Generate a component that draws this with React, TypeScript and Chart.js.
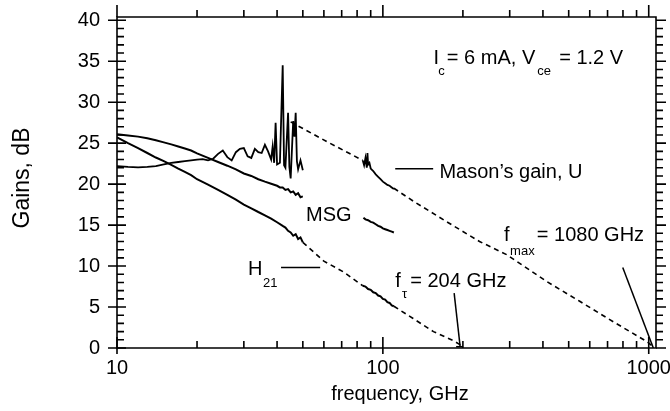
import React, { useEffect, useRef } from "react";
import { Chart, registerables } from "chart.js";
Chart.register(...registerables);

const FONT = "'Liberation Sans', Arial, Helvetica, sans-serif";

// ---- axis ticks ----
const xMajorTicks = [10, 100, 1000];
const xMinorTicks = [20, 30, 40, 50, 60, 70, 80, 90, 200, 300, 400, 500, 600, 700, 800, 900];
const yMajorTicks = [0, 5, 10, 15, 20, 25, 30, 35, 40];
const yMinorTicks = Array.from({ length: 40 }, (_, i) => i + 1).filter((v) => v % 5 !== 0);

// ---- MSG ----
const msgF1 = [10, 11, 12, 13, 14, 15, 16, 17, 18, 19, 20, 22, 24, 26, 28, 30, 32, 34, 36, 38, 40, 41, 42, 43, 44, 45, 46, 47, 48, 49, 50];
const msgG1 = [26.1, 25.95, 25.8, 25.6, 25.35, 25.1, 24.85, 24.6, 24.35, 24.1, 23.75, 23.2, 22.7, 22.25, 21.8, 21.3, 21.0, 20.6, 20.3, 20.05, 19.8, 19.6, 19.6, 19.3, 19.4, 19.0, 19.1, 18.7, 18.9, 18.4, 18.5];
const msgF2 = [84.5, 86, 88, 90, 92, 94, 96, 98, 100, 102, 104, 106, 108, 110];
const msgG2 = [15.9, 15.7, 15.6, 15.4, 15.3, 15.1, 14.9, 14.8, 14.6, 14.5, 14.4, 14.3, 14.2, 14.1];

// ---- H21 ----
const h21F1 = [10, 11, 12, 13, 14, 15, 16, 17, 18, 19, 20, 22, 24, 26, 28, 30, 32, 34, 36, 38, 40, 42, 43, 44, 45, 46, 47, 48, 49, 50];
const h21G1 = [25.7, 25.0, 24.4, 23.8, 23.25, 22.8, 22.35, 21.9, 21.5, 21.1, 20.6, 19.95, 19.3, 18.7, 18.1, 17.5, 17.05, 16.6, 16.2, 15.8, 15.35, 14.9, 14.7, 14.3, 14.1, 13.7, 13.9, 13.3, 13.5, 12.9];
const h21DashF1 = [50, 60, 71, 84];
const h21DashG1 = [12.9, 10.6, 9.3, 7.6];
const h21F2 = [84, 86, 88, 90, 92, 94, 96, 98, 100, 102, 104, 106, 108, 110];
const h21G2 = [7.6, 7.5, 7.2, 7.1, 6.8, 6.7, 6.4, 6.3, 6.0, 5.9, 5.6, 5.5, 5.2, 5.1];
const h21DashF2 = [110, 130, 155, 184, 200];
const h21DashG2 = [5.1, 3.6, 2.0, 0.9, 0.2];

// ---- Mason's gain U ----
const uF1 = [10, 11, 12, 13, 14, 15, 16, 17, 18, 19, 20, 21, 22, 23, 24, 25, 26, 27, 28, 29, 30, 31, 32, 33, 34, 35, 36, 37, 38, 38.5, 39, 39.5, 40, 41, 42, 42.5, 43, 44, 44.5, 45, 46, 46.5, 47, 47.5, 48, 49, 50];
const uG1 = [22.2, 22.1, 22.05, 22.1, 22.2, 22.4, 22.6, 22.7, 22.8, 22.9, 23.0, 23.05, 22.9, 23.1, 23.7, 24.1, 23.3, 22.9, 23.9, 24.3, 24.4, 23.4, 23.2, 24.3, 23.9, 23.8, 24.8, 24.0, 23.0, 24.6, 22.6, 27.5, 22.4, 22.6, 34.5, 22.3, 22.0, 28.7, 22.1, 20.7, 27.7, 25.8, 28.7, 22.8, 21.8, 22.9, 21.7];
const uDashF1 = [45, 61.5, 84];
const uDashG1 = [27.6, 25.2, 22.9];
const uF2 = [84, 85, 86, 87, 87.5, 88, 89, 90, 92, 94, 96, 98, 100, 102, 104, 106, 108, 110];
const uG2 = [22.9, 22.3, 23.2, 22.0, 23.8, 22.4, 22.6, 21.9, 21.6, 21.2, 20.9, 20.6, 20.3, 20.1, 19.9, 19.8, 19.6, 19.4];
const uDashF2 = [110, 130.5, 174, 231, 292, 414, 550, 736, 982, 1045];
const uDashG2 = [19.5, 17.9, 15.4, 13.0, 11.4, 8.1, 5.7, 3.2, 0.8, 0.1];

// ---- leader lines (data coords) ----
const masonLeaderF = [111.3, 154.6];
const masonLeaderG = [21.88, 21.88];
const h21LeaderF = [41.4, 58.1];
const h21LeaderG = [9.82, 9.82];
const ftLeaderF = [185.4, 195.3];
const ftLeaderG = [6.69, 0.16];
const ftCapF = [188.6, 200.4];
const ftCapG = [0.16, 0.16];
const fmaxLeaderF = [798.5, 1040.6];
const fmaxLeaderG = [9.82, 0.0];

type Piece = { t: string; dx: number; dy: number; size: number };
type Ann = { f: number; g: number; pieces: Piece[] };

const annotations: Ann[] = [
  {
    f: 155.0, g: 34.68,
    pieces: [
      { t: "I", dx: 0, dy: 0, size: 20 },
      { t: "c", dx: 4.7, dy: 10.7, size: 13 },
      { t: "= 6 mA, V", dx: 13.4, dy: 0, size: 20 },
      { t: "ce", dx: 103.7, dy: 10.7, size: 13 },
      { t: "= 1.2 V", dx: 125.7, dy: 0, size: 20 },
    ],
  },
  { f: 163.2, g: 20.71, pieces: [{ t: "Mason\u2019s gain, U", dx: 0, dy: 0, size: 20 }] },
  { f: 51.4, g: 15.44, pieces: [{ t: "MSG", dx: 0, dy: 0, size: 20 }] },
  {
    f: 31.1, g: 8.92,
    pieces: [
      { t: "H", dx: 0, dy: 0, size: 20 },
      { t: "21", dx: 15, dy: 11.7, size: 13 },
    ],
  },
  {
    f: 111.3, g: 7.49,
    pieces: [
      { t: "f", dx: 0, dy: 0, size: 20 },
      { t: "\u03c4", dx: 6.7, dy: 11.3, size: 13 },
      { t: "= 204 GHz", dx: 15, dy: 0, size: 20 },
    ],
  },
  {
    f: 285.8, g: 13.0,
    pieces: [
      { t: "f", dx: 0, dy: 0, size: 20 },
      { t: "max", dx: 6, dy: 13.3, size: 13 },
      { t: "= 1080 GHz", dx: 32.7, dy: 0, size: 20 },
    ],
  },
];

function pts(f: number[], g: number[]) {
  return f.map((x, i) => ({ x, y: g[i] }));
}
function solid(f: number[], g: number[], w = 2) {
  return { data: pts(f, g), borderColor: "#000", backgroundColor: "#000", borderWidth: w, pointRadius: 0, fill: false, tension: 0 };
}
function dashed(f: number[], g: number[]) {
  return { data: pts(f, g), borderColor: "#000", backgroundColor: "#000", borderWidth: 1.6, borderDash: [5, 4], pointRadius: 0, fill: false, tension: 0 };
}

const framePlugin = {
  id: "frame",
  afterDraw(chart: any) {
    const { ctx, chartArea: a, scales } = chart;
    const xs = scales.x;
    const ys = scales.y;
    ctx.save();
    ctx.strokeStyle = "#000";
    ctx.lineWidth = 1.6;
    ctx.beginPath();
    ctx.rect(a.left, a.top, a.right - a.left, a.bottom - a.top);
    ctx.stroke();
    ctx.beginPath();
    for (const v of xMinorTicks) {
      const px = xs.getPixelForValue(v);
      ctx.moveTo(px, a.bottom); ctx.lineTo(px, a.bottom - 7);
      ctx.moveTo(px, a.top); ctx.lineTo(px, a.top - 7);
    }
    for (const v of xMajorTicks) {
      const px = xs.getPixelForValue(v);
      ctx.moveTo(px, a.bottom + 6); ctx.lineTo(px, a.bottom - 11);
      ctx.moveTo(px, a.top); ctx.lineTo(px, a.top - 12);
    }
    for (const v of yMinorTicks) {
      const py = ys.getPixelForValue(v);
      ctx.moveTo(a.left, py); ctx.lineTo(a.left + 7, py);
      ctx.moveTo(a.right, py); ctx.lineTo(a.right + 7, py);
    }
    for (const v of yMajorTicks) {
      const py = ys.getPixelForValue(v);
      ctx.moveTo(a.left - 9, py); ctx.lineTo(a.left + 9, py);
      ctx.moveTo(a.right, py); ctx.lineTo(a.right + 10, py);
    }
    ctx.stroke();

    ctx.fillStyle = "#000";
    ctx.textAlign = "left";
    ctx.textBaseline = "alphabetic";
    for (const ann of annotations) {
      const x0 = xs.getPixelForValue(ann.f);
      const y0 = ys.getPixelForValue(ann.g);
      for (const p of ann.pieces) {
        ctx.font = `${p.size}px ${FONT}`;
        ctx.fillText(p.t, x0 + p.dx, y0 + p.dy);
      }
    }

    // axis titles
    ctx.font = `20px ${FONT}`;
    ctx.textAlign = "center";
    ctx.textBaseline = "alphabetic";
    ctx.fillText("frequency, GHz", 400, 400);
    ctx.save();
    ctx.translate(29, 178);
    ctx.rotate(-Math.PI / 2);
    ctx.font = `23px ${FONT}`;
    ctx.fillText("Gains, dB", 0, 0);
    ctx.restore();
    ctx.restore();
  },
};

export default function App() {
  const ref = useRef<HTMLCanvasElement | null>(null);
  useEffect(() => {
    if (!ref.current) return;
    const datasets: any[] = [
      solid(msgF1, msgG1),
      solid(msgF2, msgG2),
      solid(h21F1, h21G1),
      dashed(h21DashF1, h21DashG1),
      solid(h21F2, h21G2),
      dashed(h21DashF2, h21DashG2),
      solid(uF1, uG1, 1.8),
      dashed(uDashF1, uDashG1),
      solid(uF2, uG2, 1.8),
      dashed(uDashF2, uDashG2),
      solid(masonLeaderF, masonLeaderG, 1.5),
      solid(h21LeaderF, h21LeaderG, 1.5),
      solid(ftLeaderF, ftLeaderG, 1.5),
      solid(ftCapF, ftCapG, 1.5),
      solid(fmaxLeaderF, fmaxLeaderG, 1.5),
    ];
    const chart = new Chart(ref.current, {
      type: "line",
      data: { datasets },
      options: {
        animation: false,
        responsive: false,
        maintainAspectRatio: false,
        layout: { padding: { top: 17, right: 14, left: 0, bottom: 0 } },
        plugins: { legend: { display: false }, tooltip: { enabled: false } },
        scales: {
          x: {
            type: "logarithmic",
            min: 10,
            max: 1065,
            grid: { display: false, drawTicks: false },
            border: { display: false },
            ticks: {
              color: "#000",
              font: { family: FONT, size: 20 },
              padding: 8,
              autoSkip: false,
              maxRotation: 0,
              minRotation: 0,
              callback: (v: any) => String(v),
            },
            afterBuildTicks: (s: any) => {
              s.ticks = xMajorTicks.map((v) => ({ value: v }));
            },
            afterFit: (s: any) => {
              s.height = 63;
              s.paddingLeft = 0;
              s.paddingRight = 0;
            },
          },
          y: {
            type: "linear",
            min: 0,
            max: 40.4,
            grid: { display: false, drawTicks: false },
            border: { display: false },
            ticks: {
              color: "#000",
              font: { family: FONT, size: 20 },
              padding: 17,
              callback: (v: any) => String(v),
            },
            afterBuildTicks: (s: any) => {
              s.ticks = yMajorTicks.map((v) => ({ value: v }));
            },
            afterFit: (s: any) => {
              s.width = 117;
              s.paddingTop = 0;
              s.paddingBottom = 0;
            },
          },
        },
      } as any,
      plugins: [framePlugin],
    });
    return () => chart.destroy();
  }, []);
  return (
    <div style={{ position: "fixed", left: 0, top: 0, width: 670, height: 411, background: "#fff" }}>
      <canvas ref={ref} width={670} height={411} style={{ display: "block" }} />
    </div>
  );
}
